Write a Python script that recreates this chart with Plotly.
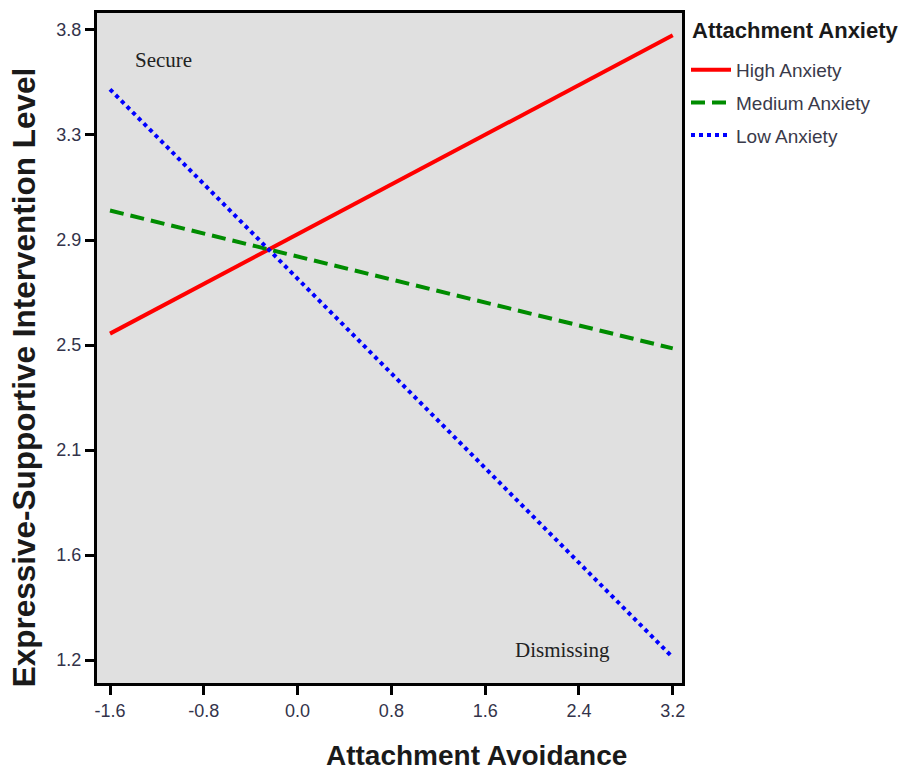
import numpy as np
import plotly.graph_objects as go

# Data
avoidance = [-1.6, 3.2]
high_anxiety = [2.547, 3.778]
medium_anxiety = [3.055, 2.486]
low_anxiety = [3.555, 1.211]

x_ticks = [-1.6, -0.8, 0.0, 0.8, 1.6, 2.4, 3.2]
x_ticklabels = ["-1.6", "-0.8", "0.0", "0.8", "1.6", "2.4", "3.2"]
y_ticklabels = ["1.2", "1.6", "2.1", "2.5", "2.9", "3.3", "3.8"]
y_ticks = list(np.linspace(1.2, 3.8, len(y_ticklabels)))

fig = go.Figure()
fig.add_trace(go.Scatter(x=avoidance, y=high_anxiety, mode="lines", name="High Anxiety",
                         legendgroup="a", line=dict(color="#ff0000", width=4)))
fig.add_trace(go.Scatter(x=avoidance, y=medium_anxiety, mode="lines", name="Medium Anxiety",
                         legendgroup="b", line=dict(color="#008c00", width=4, dash="14px,7px")))
fig.add_trace(go.Scatter(x=avoidance, y=low_anxiety, mode="lines", name="Low Anxiety",
                         legendgroup="c", line=dict(color="#0000ff", width=4, dash="dot")))

tickfont = dict(family="Liberation Sans, Arial", size=18, color="#33334a")

L, R, T, B = 97, 226, 10, 88
pw = 908 - L - R
ph = 771 - T - B


def px_x(px):
    return (px - L) / pw


def px_y(py):
    return (T + ph - py) / ph


fig.update_layout(
    width=908, height=771,
    margin=dict(l=L, r=R, t=T, b=B),
    paper_bgcolor="white",
    plot_bgcolor="#e0e0e0",
    showlegend=True,
    legend=dict(
        x=px_x(686), y=px_y(48), xanchor="left", yanchor="top",
        font=dict(family="Liberation Sans, Arial", size=19, color="#3a3a4a"),
        traceorder="grouped", tracegroupgap=5,
        bgcolor="rgba(0,0,0,0)", itemwidth=40,
    ),
    xaxis=dict(
        range=[-1.711, 3.279], tickvals=x_ticks, ticktext=x_ticklabels,
        showgrid=False, zeroline=False, showline=True, linecolor="black", linewidth=3,
        mirror=True, ticks="outside", ticklen=9, tickwidth=3, tickcolor="black",
        tickfont=tickfont,
    ),
    yaxis=dict(
        range=[1.1055, 3.87], tickvals=y_ticks, ticktext=y_ticklabels,
        showgrid=False, zeroline=False, showline=True, linecolor="black", linewidth=3,
        mirror=True, ticks="outside", ticklen=9, tickwidth=3, tickcolor="black",
        tickfont=tickfont,
    ),
    annotations=[
        dict(text="Secure", x=-1.148, y=3.676, xref="x", yref="y", showarrow=False,
             font=dict(family="Liberation Serif, Times New Roman", size=21, color="#222222")),
        dict(text="Dismissing", x=2.257, y=1.24, xref="x", yref="y", showarrow=False,
             font=dict(family="Liberation Serif, Times New Roman", size=21, color="#222222")),
        dict(text="<b>Attachment Anxiety</b>", x=px_x(690), y=px_y(28),
             xref="paper", yref="paper", showarrow=False, xanchor="left", yanchor="middle",
             font=dict(family="Liberation Sans, Arial", size=22, color="#1a1a1a")),
        dict(text="<b>Attachment Avoidance</b>", x=px_x(476), y=px_y(756),
             xref="paper", yref="paper", showarrow=False, xanchor="center", yanchor="middle",
             font=dict(family="Liberation Sans, Arial", size=28, color="#1a1a1a")),
        dict(text="<b>Expressive-Supportive Intervention Level</b>", x=px_x(24),
             y=px_y(376),
             xref="paper", yref="paper", showarrow=False, textangle=-90,
             xanchor="center", yanchor="middle",
             font=dict(family="Liberation Sans, Arial", size=31.5, color="#1a1a1a")),
    ],
)

fig.write_html("out.html", config={"displayModeBar": False},
               post_script="document.body.style.margin='0';")
